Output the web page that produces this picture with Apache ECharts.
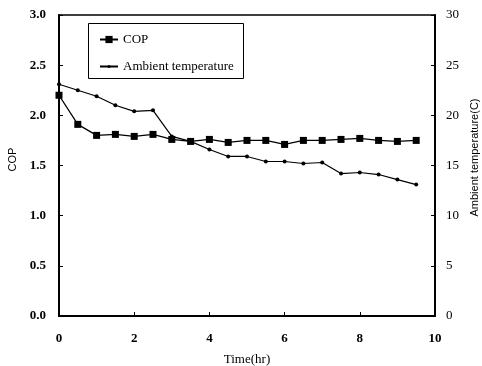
<!DOCTYPE html>
<html>
<head>
<meta charset="utf-8">
<script src="https://cdn.jsdelivr.net/npm/echarts@6/dist/echarts.min.js"></script>
<style>
  html, body { margin: 0; padding: 0; background: #fff; }
  #chart { width: 482px; height: 366px; }
</style>
</head>
<body>
<div id="chart"></div>
<script>
// Time points (hr)
const hours = [0, 0.5, 1, 1.5, 2, 2.5, 3, 3.5, 4, 4.5, 5, 5.5, 6, 6.5, 7, 7.5, 8, 8.5, 9, 9.5];
// COP readings
const cop = [2.20, 1.91, 1.80, 1.81, 1.79, 1.81, 1.76, 1.74, 1.76, 1.73, 1.75, 1.75, 1.71, 1.75, 1.75, 1.76, 1.77, 1.75, 1.74, 1.75];
// Ambient temperature (C)
const ambient = [23.1, 22.5, 21.9, 21.0, 20.4, 20.5, 17.9, 17.4, 16.6, 15.9, 15.9, 15.4, 15.4, 15.2, 15.3, 14.2, 14.3, 14.1, 13.6, 13.1];

const serif = 'Liberation Serif';
const sans = 'Liberation Sans';

const chart = echarts.init(document.getElementById('chart'));

// shared legend look, one legend per item so the symbol sizes can differ
const legendBase = {
    orient: 'vertical',
    left: 99,
    padding: 0,
    itemWidth: 18,
    itemGap: 4,
    textStyle: { fontFamily: serif, fontSize: 13, color: '#000' },
};

const option = {
    animation: false,
    backgroundColor: '#fff',
    grid: {
        left: 59,
        right: 47,
        top: 15,
        bottom: 50,
        outerBoundsMode: 'none',
        show: true,
        borderColor: '#000',
        borderWidth: 1.5,
    },
    legend: [
        { ...legendBase, top: 33, itemHeight: 9, data: ['COP'] },
        { ...legendBase, top: 60, itemHeight: 4, data: ['Ambient temperature'] },
    ],
    graphic: [{
        type: 'rect',
        shape: { x: 88.5, y: 23.5, width: 155, height: 55 },
        style: { fill: null, stroke: '#000', lineWidth: 1 },
        z: 10,
    }],
    xAxis: {
        type: 'value',
        min: 0,
        max: 10,
        interval: 2,
        name: 'Time(hr)',
        nameLocation: 'middle',
        nameGap: 37,
        nameTextStyle: { fontFamily: serif, fontSize: 13, color: '#000' },
        axisLine: { lineStyle: { color: '#000', width: 2 } },
        axisTick: { inside: true, length: 4, lineStyle: { color: '#000' } },
        axisLabel: { fontFamily: serif, fontSize: 13, fontWeight: 'bold', color: '#000', margin: 16 },
        splitLine: { show: false },
    },
    yAxis: [
        {
            type: 'value',
            min: 0,
            max: 3,
            interval: 0.5,
            name: 'COP',
            nameLocation: 'middle',
            nameRotate: 90,
            nameGap: 40,
            nameTextStyle: { fontFamily: sans, fontSize: 11, color: '#000', padding: [0, 0, 0, 12] },
            axisLine: { show: true, lineStyle: { color: '#000', width: 2 } },
            axisTick: { show: true, inside: true, length: 4, lineStyle: { color: '#000' } },
            axisLabel: {
                fontFamily: serif, fontSize: 13, fontWeight: 'bold', color: '#000', margin: 13,
                formatter: v => v.toFixed(1),
            },
            splitLine: { show: false },
        },
        {
            type: 'value',
            min: 0,
            max: 30,
            interval: 5,
            position: 'right',
            name: 'Ambient temperature(C)',
            nameLocation: 'middle',
            nameRotate: 90,
            nameGap: 30,
            nameTextStyle: { fontFamily: sans, fontSize: 11, color: '#000', padding: [0, 0, 0, 16] },
            axisLine: { show: true, lineStyle: { color: '#000', width: 2 } },
            axisTick: { show: true, inside: true, length: 4, lineStyle: { color: '#000' } },
            axisLabel: { fontFamily: serif, fontSize: 13, color: '#000', margin: 11 },
            splitLine: { show: false },
        },
    ],
    series: [
        {
            name: 'COP',
            type: 'line',
            yAxisIndex: 0,
            data: hours.map((h, i) => [h, cop[i]]),
            symbol: 'rect',
            symbolSize: 7,
            itemStyle: { color: '#000' },
            lineStyle: { color: '#000', width: 1.3 },
        },
        {
            name: 'Ambient temperature',
            type: 'line',
            yAxisIndex: 1,
            data: hours.map((h, i) => [h, ambient[i]]),
            symbol: 'circle',
            symbolSize: 4,
            itemStyle: { color: '#000' },
            lineStyle: { color: '#000', width: 1.2 },
        },
    ],
};

chart.setOption(option);
</script>
</body>
</html>
